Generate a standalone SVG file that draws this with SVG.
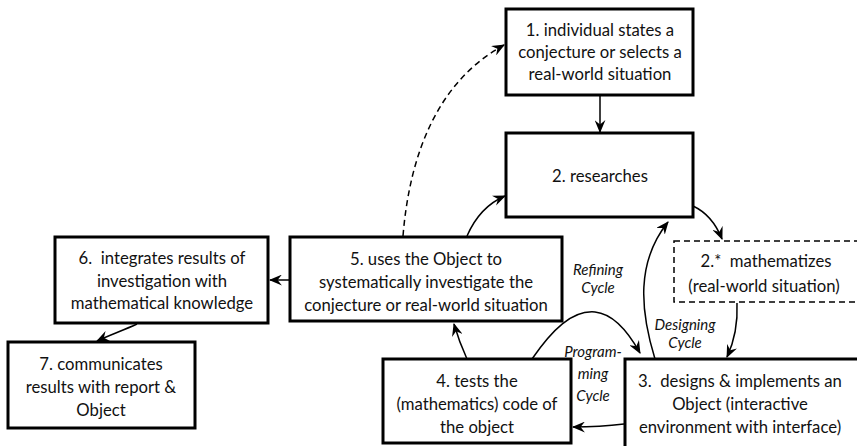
<svg xmlns="http://www.w3.org/2000/svg" width="857" height="446" viewBox="0 0 857 446">
<style>
.box{fill:#fff;stroke:#000;stroke-width:3}
.dbox{fill:#fff;stroke:#000;stroke-width:1.5;stroke-dasharray:6,4}
.t{font-family:Lato,"Liberation Sans",sans-serif;font-size:16.7px;fill:#111;text-anchor:middle;white-space:pre}
.lbl{font-family:Lato,"Liberation Sans",sans-serif;font-size:15px;font-style:italic;fill:#111;text-anchor:middle}
.c{fill:none;stroke:#000;stroke-width:1.5;marker-end:url(#ah)}
.dc{fill:none;stroke:#000;stroke-width:1.5;stroke-dasharray:6,4;marker-end:url(#ah)}
</style>
<defs>
<marker id="ah" viewBox="0 0 12 10" refX="11" refY="5" markerWidth="13" markerHeight="11" markerUnits="userSpaceOnUse" orient="auto">
<path d="M0,0 L12,5 L0,10 L4,5 z" fill="#000"/>
</marker>
</defs>
<rect width="857" height="446" fill="#fff"/>
<g id="connectors">
<path class="c" d="M600,95 L600,132"/>
<path class="dc" d="M403,236 C410,150 440,80 504,45"/>
<path class="c" d="M467,236 C474,220 486,204 505,196"/>
<path class="c" d="M693,206 C706,212 716,224 722,239"/>
<path class="c" d="M737,303 C738,325 734,342 727,357"/>
<path class="c" d="M655,359 C640,310 636,262 668,222"/>
<path class="c" d="M532,359 C552,330 572,310 595,312 C615,314 630,335 640,353"/>
<path class="c" d="M624,424 C608,426 590,427 573,427"/>
<path class="c" d="M467,359 C462,348 458,338 454,324"/>
<path class="c" d="M290,280 L270,280"/>
<path class="c" d="M137,324 C124,330 110,335 97,341"/>
</g>
<g id="n1">
<rect class="box" x="506" y="9" width="187" height="86"/>
<text class="t" x="600" y="36">1. individual states a</text>
<text class="t" x="600" y="58">conjecture or selects a</text>
<text class="t" x="600" y="80">real-world situation</text>
</g>
<g id="n2">
<rect class="box" x="506" y="133" width="187" height="84"/>
<text class="t" x="600" y="182">2. researches</text>
</g>
<g id="n2s">
<rect class="dbox" x="674" y="241" width="200" height="61"/>
<text class="t" x="766" y="267" xml:space="preserve">2.*  mathematizes</text>
<text class="t" x="764" y="292">(real-world situation)</text>
</g>
<g id="n3">
<rect class="box" x="625" y="359" width="250" height="100"/>
<text class="t" x="740" y="387" xml:space="preserve">3.  designs &amp; implements an</text>
<text class="t" x="740" y="410">Object (interactive</text>
<text class="t" x="740" y="433">environment with interface)</text>
</g>
<g id="n4">
<rect class="box" x="383" y="359" width="188" height="84"/>
<text class="t" x="477" y="387">4. tests the</text>
<text class="t" x="477" y="410">(mathematics) code of</text>
<text class="t" x="477" y="433">the object</text>
</g>
<g id="n5">
<rect class="box" x="290" y="237" width="272" height="84"/>
<text class="t" x="426" y="265">5. uses the Object to</text>
<text class="t" x="426" y="288">systematically investigate the</text>
<text class="t" x="426" y="311">conjecture or real-world situation</text>
</g>
<g id="n6">
<rect class="box" x="55" y="237" width="213" height="86"/>
<text class="t" x="162" y="264" xml:space="preserve">6.  integrates results of</text>
<text class="t" x="162" y="287">investigation with</text>
<text class="t" x="162" y="309">mathematical knowledge</text>
</g>
<g id="n7">
<rect class="box" x="8" y="342" width="187" height="86"/>
<text class="t" x="101" y="370">7. communicates</text>
<text class="t" x="101" y="393">results with report &amp;</text>
<text class="t" x="101" y="416">Object</text>
</g>
<g id="labels">
<text class="lbl" x="598" y="275">Refining</text>
<text class="lbl" x="598" y="293">Cycle</text>
<text class="lbl" x="685" y="330">Designing</text>
<text class="lbl" x="685" y="348">Cycle</text>
<text class="lbl" x="593" y="357">Program-</text>
<text class="lbl" x="593" y="379">ming</text>
<text class="lbl" x="593" y="401">Cycle</text>
</g>
</svg>
